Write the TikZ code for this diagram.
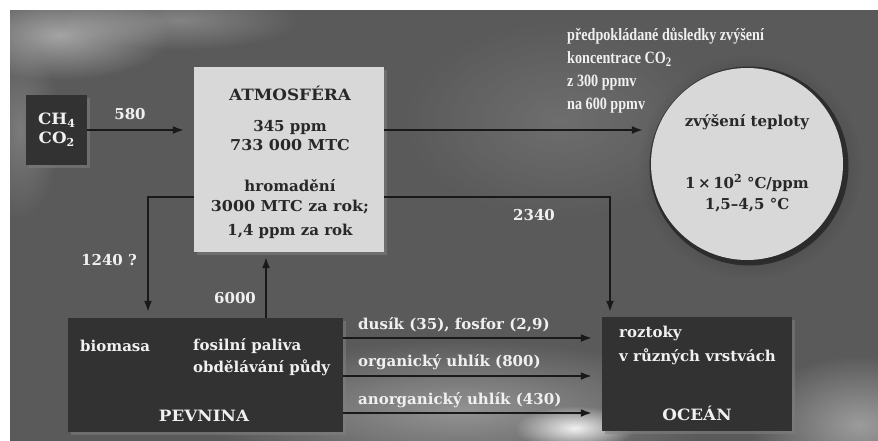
\documentclass[tikz,border=0pt]{standalone}
\usepackage{fontspec}
\setmainfont{DejaVu Serif}
\newfontfamily\topfont{Liberation Serif}
\usetikzlibrary{arrows.meta,shadows,fadings}
\definecolor{bgcol}{RGB}{90,90,90}
\definecolor{boxdark}{RGB}{50,50,50}
\definecolor{boxlight}{RGB}{216,216,216}
\definecolor{txtlight}{RGB}{240,240,240}
\definecolor{txtdark}{RGB}{40,40,40}
\tikzfading[name=softglow, inner color=transparent!0, outer color=transparent!100]
\tikzset{
  darkbox/.style={fill=boxdark, inner sep=0pt, draw=none,
    drop shadow={opacity=0.55, shadow xshift=3pt, shadow yshift=-3pt}},
  lightbox/.style={fill=boxlight, inner sep=0pt, draw=none,
    drop shadow={opacity=0.55, shadow xshift=3pt, shadow yshift=-3pt}},
  wt/.style={text=txtlight, inner sep=0pt},
  dt/.style={text=txtdark, inner sep=0pt},
  arr/.style={draw=black!90, line width=1.8pt, -{Latex[length=11pt,width=8pt]}},
  cloud/.style={fill=white, path fading=softglow},
}
\newcommand{\capsw}[1]{\scalebox{1.12}[1.04]{#1}}
\newcommand{\sbs}[1]{\raisebox{-0.35ex}{\fontsize{11}{11}\selectfont #1}}
\newcommand{\tall}[1]{\scalebox{0.97}[1.18]{#1}}
\begin{document}
\begin{tikzpicture}[x=1pt,y=-1pt,font=\fontsize{15}{18}\selectfont\bfseries]
\useasboundingbox (0,0) rectangle (878,441);
% background
\fill[bgcol] (10,10) rectangle (878,441);
\begin{scope}
\clip (10,10) rectangle (878,441);
\fill[cloud, opacity=0.45] (60,35) ellipse (110 and 45);
\fill[cloud, opacity=0.25] (180,20) ellipse (120 and 30);
\fill[cloud, opacity=0.2] (20,130) ellipse (40 and 90);
\fill[cloud, opacity=0.35] (460,410) ellipse (260 and 70);
\fill[cloud, opacity=0.9] (575,428) ellipse (60 and 22);
\fill[cloud, opacity=0.4] (860,425) ellipse (110 and 70);
\fill[cloud, opacity=0.12] (560,120) ellipse (160 and 100);
\end{scope}

% boxes
\node[darkbox, minimum width=61pt, minimum height=70pt] (src) at (56.5,130) {};
\node[lightbox, minimum width=190pt, minimum height=185pt] (atm) at (289,159.5) {};
\fill[black, opacity=0.6, path fading=softglow] (750,167) circle (112);
\fill[black, opacity=0.45] (749,166) circle (99.5);
\node[circle, fill=boxlight, inner sep=0pt, minimum size=192pt] (circ) at (747,164) {};
\node[darkbox, minimum width=275pt, minimum height=114pt] (land) at (205.5,375) {};
\node[darkbox, minimum width=190pt, minimum height=114pt] (ocean) at (697,374) {};

% texts in boxes
\node[wt, align=center, font=\fontsize{15}{19}\selectfont\bfseries] (srct) at (56.5,130) {\capsw{CH}\sbs{4}\\\capsw{CO}\sbs{2}};
\node[dt] (atm1) at (290,93) {\capsw{ATMOSFÉRA}};
\node[dt] (atm2) at (290,127) {345 ppm};
\node[dt] (atm3) at (290,145) {\scalebox{1.06}[1]{733 000 MTC}};
\node[dt] (atm4) at (290,186) {hromadění};
\node[dt] (atm5) at (290,207) {\scalebox{1.06}[1]{3000 MTC za rok;}};
\node[dt] (atm6) at (290,231) {1,4 ppm za rok};
\node[dt] (c1) at (747,122) {zvýšení teploty};
\node[dt] (c2) at (747,183) {1\,×\,10\raisebox{0.8ex}{\fontsize{11}{11}\selectfont 2} °C/ppm};
\node[dt] (c3) at (747,205) {1,5–4,5 °C};
\node[wt, anchor=west] (l1) at (80,346) {biomasa};
\node[wt, anchor=west] (l2) at (193,346) {fosilní paliva};
\node[wt, anchor=west] (l3) at (193,368) {obdělávání půdy};
\node[wt] (l4) at (204,416) {\capsw{PEVNINA}};
\node[wt, anchor=west] (o1) at (619,333) {roztoky};
\node[wt, anchor=west] (o2) at (619,357) {v různých vrstvách};
\node[wt] (o3) at (697,413) {\capsw{OCEÁN}};

% top right note
\node[wt, anchor=north west, align=left, font=\topfont\fontsize{14.6}{22.8}\selectfont\bfseries] (note) at (567,28)
  {\tall{předpokládané důsledky zvýšení}\\\tall{koncentrace CO\raisebox{-0.35ex}{\fontsize{11}{11}\selectfont 2}}\\\tall{z 300 ppmv}\\\tall{na 600 ppmv}};

% connectors
\coordinate (y1) at (0,130);
\coordinate (lv) at (148,197);
\coordinate (rv) at (610,197);
\coordinate (u) at (266,0);
\coordinate (f1) at (0,338);
\coordinate (f2) at (0,376);
\coordinate (f3) at (0,413);
\draw[arr, shorten >=10pt] (src.east) -- (src.east -| atm.west);
\draw[arr, shorten >=8pt] (y1 -| atm.east) -- (y1 -| circ.west);
\draw[arr, shorten >=6pt] (lv -| atm.west) -- (lv) -- (lv |- land.north);
\draw[arr, shorten >=5pt] (rv -| atm.east) -- (rv) -- (rv |- ocean.north);
\draw[arr, shorten >=5pt] (u |- land.north) -- (u |- atm.south);
\draw[arr, shorten >=10pt] (f1 -| land.east) -- (f1 -| ocean.west);
\draw[arr, shorten >=10pt] (f2 -| land.east) -- (f2 -| ocean.west);
\draw[arr, shorten >=10pt] (f3 -| land.east) -- (f3 -| ocean.west);

% connector labels
\node[wt] (t580) at (130,114) {580};
\node[wt] (t2340) at (534,215) {2340};
\node[wt] (t1240) at (109,260) {1240 ?};
\node[wt] (t6000) at (235,298) {6000};
\node[wt, anchor=west] (tf1) at (358,325) {dusík (35), fosfor (2,9)};
\node[wt, anchor=west] (tf2) at (358,362) {organický uhlík (800)};
\node[wt, anchor=west] (tf3) at (358,400) {anorganický uhlík (430)};
\end{tikzpicture}
\end{document}
